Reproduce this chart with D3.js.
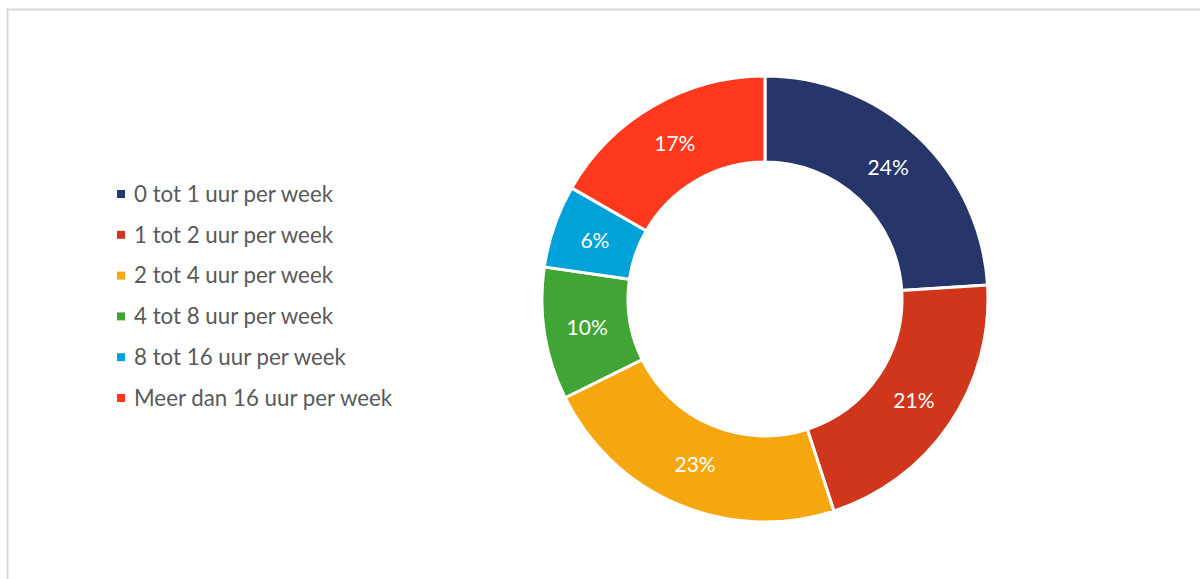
<!DOCTYPE html>
<html>
<head>
<meta charset="utf-8">
<script src="https://cdn.jsdelivr.net/npm/d3@7"></script>
<style>
  body { margin: 0; background: #fff; }
  svg { display: block; font-family: Lato, "Open Sans", sans-serif; }
</style>
</head>
<body>
<svg id="chart"></svg>
<script>
const categories = [
    "0 tot 1 uur per week",
    "1 tot 2 uur per week",
    "2 tot 4 uur per week",
    "4 tot 8 uur per week",
    "8 tot 16 uur per week",
    "Meer dan 16 uur per week"
];
const values = [24.0, 21.0, 22.7, 9.6, 6.0, 16.7];
const colors = ["#26366A", "#D0361B", "#F5A70F", "#41A535", "#00A3D9", "#FF381E"];

const width = 1200, height = 579;

const svg = d3.select("#chart")
    .attr("width", width)
    .attr("height", height);

// chart frame (runs past the right and bottom edge)
svg.append("rect")
    .attr("x", 7.5)
    .attr("y", 9.5)
    .attr("width", 1300)
    .attr("height", 700)
    .attr("fill", "#fff")
    .attr("stroke", "#d9d9d9")
    .attr("stroke-width", 2);

const total = d3.sum(values);
const data = categories.map((c, i) => ({ name: c, value: values[i], color: colors[i] }));

const cx = 765, cy = 299;
const outerR = 223, innerR = 137;

const pie = d3.pie()
    .value(d => d.value)
    .sort(null);

const arc = d3.arc()
    .innerRadius(innerR)
    .outerRadius(outerR);

const labelArc = d3.arc()
    .innerRadius((innerR + outerR) / 2)
    .outerRadius((innerR + outerR) / 2);

const donut = svg.append("g")
    .attr("transform", `translate(${cx},${cy})`);

const arcs = pie(data);

donut.selectAll(".slice")
    .data(arcs)
    .join("path")
    .attr("class", "slice")
    .attr("d", arc)
    .attr("fill", d => d.data.color)
    .attr("stroke", "#fff")
    .attr("stroke-width", 3);

const pct = d3.format(".0%");
donut.selectAll(".slice-label")
    .data(arcs)
    .join("text")
    .attr("class", "slice-label")
    .attr("transform", d => `translate(${labelArc.centroid(d)})`)
    .attr("text-anchor", "middle")
    .attr("dy", "0.35em")
    .attr("fill", "#fff")
    .attr("font-size", 21)
    .text(d => pct(d.data.value / total));

// legend
const legend = svg.append("g")
    .attr("transform", "translate(117,194)");

const rowH = 40.8;
const rows = legend.selectAll(".legend-row")
    .data(data)
    .join("g")
    .attr("class", "legend-row")
    .attr("transform", (d, i) => `translate(0,${i * rowH})`);

rows.append("rect")
    .attr("x", 0)
    .attr("y", -4)
    .attr("width", 8)
    .attr("height", 8)
    .attr("fill", d => d.color);

rows.append("text")
    .attr("x", 17)
    .attr("dy", "0.35em")
    .attr("fill", "#595959")
    .attr("font-size", 22.3)
    .text(d => d.name);
</script>
</body>
</html>
